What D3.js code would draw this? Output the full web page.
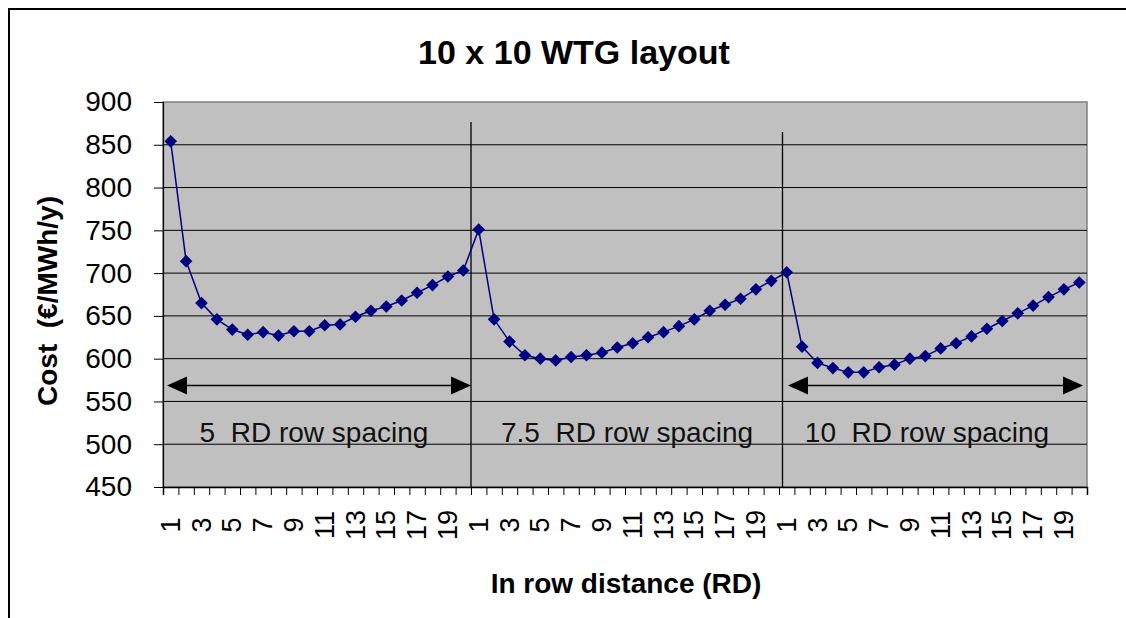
<!DOCTYPE html>
<html>
<head>
<meta charset="utf-8">
<script src="https://cdn.jsdelivr.net/npm/d3@7"></script>
<style>
  body { margin: 0; background: #fff; }
  text { font-family: "Liberation Sans", Arial, sans-serif; }
</style>
</head>
<body>
<script>
let width = 1126;
let height = 618;

// row spacing groups and in-row distance categories
const spacings = ['5', '7.5', '10'];
const rd = [1, 2, 3, 4, 5, 6, 7, 8, 9, 10, 11, 12, 13, 14, 15, 16, 17, 18, 19, 20];

// cost (EUR/MWh/y) per group
const cost5 = [854, 714, 665, 646, 634, 628, 631, 627, 632, 632, 639, 640, 649, 656, 661, 668, 677, 686, 696, 703];
const cost75 = [751, 646, 620, 604, 600, 598, 602, 604, 607, 613, 618, 625, 631, 638, 646, 656, 663, 670, 681, 691];
const cost10 = [701, 614, 595, 589, 584, 584, 590, 593, 600, 603, 612, 618, 626, 635, 644, 653, 662, 672, 681, 689];

const yTicks = [450, 500, 550, 600, 650, 700, 750, 800, 850, 900];

let data = [];
[cost5, cost75, cost10].forEach((arr, g) => {
	arr.forEach((v, i) => data.push({ idx: g * rd.length + i, rd: rd[i], group: g, value: v }));
});

let plotL = 163, plotR = 1087, plotT = 102, plotB = 487;

let svg = d3.select('body').append('svg')
	.attr('width', width)
	.attr('height', height);

// outer frame
svg.append('rect')
	.attr('x', 9).attr('y', 9)
	.attr('width', width + 20).attr('height', height + 20)
	.style('fill', 'none')
	.style('stroke', '#000')
	.style('stroke-width', 2);

let x = d3.scaleBand()
	.domain(d3.range(data.length))
	.range([plotL, plotR])
	.paddingInner(0).paddingOuter(0);

let xb = d3.scaleLinear()
	.domain([0, data.length])
	.range([plotL, plotR]);

let y = d3.scaleLinear()
	.domain([450, 900])
	.range([plotB, plotT]);

// plot area
svg.append('rect')
	.attr('x', plotL).attr('y', plotT)
	.attr('width', plotR - plotL).attr('height', plotB - plotT)
	.style('fill', '#c0c0c0')
	.style('stroke', '#808080')
	.style('stroke-width', 1.5);

// gridlines
svg.append('g')
	.selectAll('line')
	.data(yTicks.filter(t => t > 450 && t < 900))
	.enter().append('line')
	.attr('x1', plotL).attr('x2', plotR)
	.attr('y1', d => y(d)).attr('y2', d => y(d))
	.style('stroke', '#000')
	.style('stroke-width', 1);

// y axis
let yAxis = svg.append('g')
	.attr('transform', 'translate(' + plotL + ',0)')
	.call(d3.axisLeft(y).tickValues(yTicks).tickSize(9).tickPadding(22).tickFormat(d3.format('d')));
yAxis.select('.domain').style('stroke', '#000').style('stroke-width', 1.2);
yAxis.selectAll('.tick line').style('stroke', '#000');
yAxis.selectAll('text')
	.style('font-size', '28px')
	.style('fill', '#000');

// x axis ticks at category boundaries
let xAxis = svg.append('g')
	.attr('transform', 'translate(0,' + plotB + ')')
	.call(d3.axisBottom(xb).tickValues(d3.range(data.length + 1)).tickSize(8).tickFormat(''));
xAxis.select('.domain').style('stroke', '#000').style('stroke-width', 1.5);
xAxis.selectAll('.tick line').style('stroke', '#000');

// rotated category labels (odd only)
svg.append('g')
	.selectAll('text')
	.data(data.filter(d => d.rd % 2 === 1))
	.enter().append('text')
	.attr('transform', d => 'translate(' + (x(d.idx) + x.bandwidth() / 2 + 9) + ',525) rotate(-90)')
	.attr('text-anchor', 'middle')
	.style('font-size', '27px')
	.text(d => d.rd);

// group separators
let sep = [{ at: 20, y0: 122, dx: 0 }, { at: 40, y0: 132, dx: 3.5 }];
svg.append('g')
	.selectAll('line')
	.data(sep)
	.enter().append('line')
	.attr('x1', d => xb(d.at) + d.dx).attr('x2', d => xb(d.at) + d.dx)
	.attr('y1', d => d.y0).attr('y2', plotB)
	.style('stroke', '#000')
	.style('stroke-width', 1.3);

// arrows
let arrows = [{ from: 0, to: 20, pad0: 4, pad1: 0 }, { from: 40, to: 60, pad0: 9, pad1: 4 }];
let arrowY = 385.5;
arrows.forEach(a => {
	let x0 = xb(a.from) + a.pad0, x1 = xb(a.to) - a.pad1;
	svg.append('line')
		.attr('x1', x0 + 10).attr('x2', x1 - 10)
		.attr('y1', arrowY).attr('y2', arrowY)
		.style('stroke', '#000').style('stroke-width', 1.5);
	svg.append('path')
		.attr('d', 'M' + x0 + ',' + arrowY + 'L' + (x0 + 20) + ',' + (arrowY - 9) + 'L' + (x0 + 20) + ',' + (arrowY + 9) + 'Z')
		.style('fill', '#000');
	svg.append('path')
		.attr('d', 'M' + x1 + ',' + arrowY + 'L' + (x1 - 20) + ',' + (arrowY - 9) + 'L' + (x1 - 20) + ',' + (arrowY + 9) + 'Z')
		.style('fill', '#000');
});

// group labels
let labelShift = [-3, 2, -6];
svg.append('g')
	.selectAll('text')
	.data(spacings)
	.enter().append('text')
	.attr('x', (d, i) => (xb(i * 20) + xb(i * 20 + 20)) / 2 + labelShift[i])
	.attr('y', 442)
	.attr('text-anchor', 'middle')
	.attr('xml:space', 'preserve')
	.style('white-space', 'pre')
	.style('font-size', '28px')
	.style('fill', '#111')
	.text(d => d + '  RD row spacing');

// line and markers
let line = d3.line()
	.x(d => x(d.idx) + x.bandwidth() / 2)
	.y(d => y(d.value));

svg.append('path')
	.datum(data)
	.attr('d', line)
	.style('fill', 'none')
	.style('stroke', '#000080')
	.style('stroke-width', 1.5);

svg.append('g')
	.selectAll('path')
	.data(data)
	.enter().append('path')
	.attr('d', d3.symbol().type(d3.symbolSquare).size(80))
	.attr('transform', d => 'translate(' + (x(d.idx) + x.bandwidth() / 2) + ',' + y(d.value) + ') rotate(45)')
	.style('fill', '#000080');

// titles
svg.append('text')
	.attr('x', 574).attr('y', 64)
	.attr('text-anchor', 'middle')
	.style('font-size', '34px')
	.style('font-weight', 'bold')
	.text('10 x 10 WTG layout');

svg.append('text')
	.attr('x', 626).attr('y', 593)
	.attr('text-anchor', 'middle')
	.style('font-size', '28px')
	.style('font-weight', 'bold')
	.text('In row distance (RD)');

svg.append('text')
	.attr('transform', 'translate(57,301) rotate(-90)')
	.attr('text-anchor', 'middle')
	.attr('xml:space', 'preserve')
	.style('white-space', 'pre')
	.style('font-size', '28px')
	.style('font-weight', 'bold')
	.text('Cost  (€/MWh/y)');
</script>
</body>
</html>
